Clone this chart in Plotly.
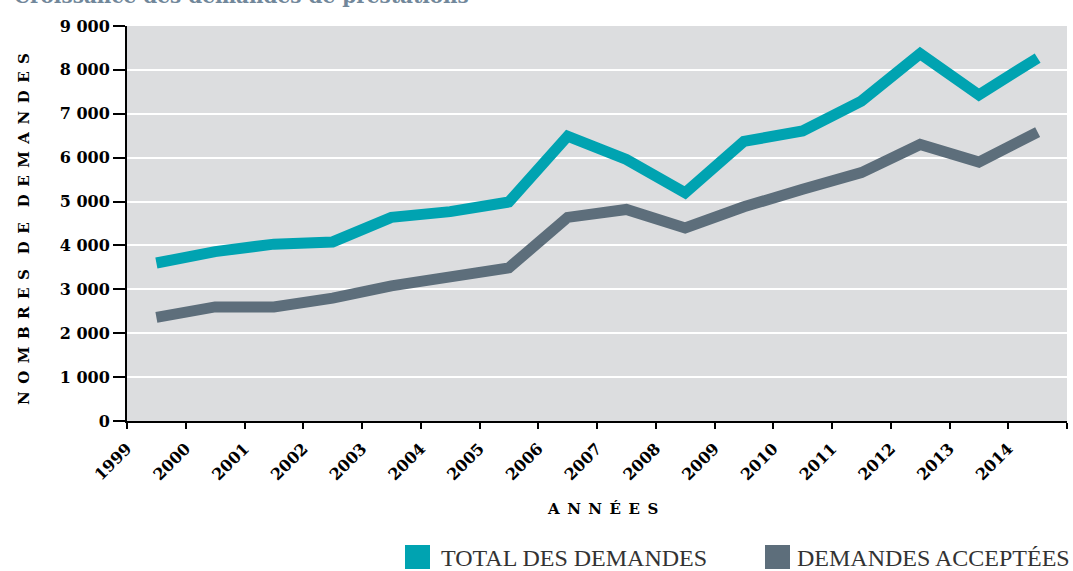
import plotly.graph_objects as go

years = [1999, 2000, 2001, 2002, 2003, 2004, 2005, 2006, 2007, 2008, 2009, 2010, 2011, 2012, 2013, 2014]
total_demandes = [3600, 3860, 4030, 4080, 4640, 4770, 4990, 6490, 5960, 5200, 6370, 6610, 7290, 8370, 7430, 8270]
demandes_acceptees = [2360, 2600, 2600, 2800, 3080, 3270, 3490, 4640, 4820, 4400, 4880, 5280, 5660, 6300, 5900, 6580]
y_ticks = [0, 1000, 2000, 3000, 4000, 5000, 6000, 7000, 8000, 9000]

TEAL = "#00a3b1"
SLATE = "#5d6e7b"
BG = "#dcdddf"
SERIF = "DejaVu Serif"

W, H = 1073, 571
L, R, T, B = 127, 6, 26, 150
PW, PH = W - L - R, H - T - B

def px(x):
    return (x - L) / PW

def py(y):
    return (H - B - y) / PH

xpos = [i + 0.5 for i in range(len(years))]

fig = go.Figure()
fig.add_trace(go.Scatter(x=xpos, y=total_demandes, mode="lines", name="TOTAL DES DEMANDES",
                         line=dict(color=TEAL, width=11), showlegend=False))
fig.add_trace(go.Scatter(x=xpos, y=demandes_acceptees, mode="lines", name="DEMANDES ACCEPTÉES",
                         line=dict(color=SLATE, width=11), showlegend=False))

fig.update_layout(
    width=W, height=H,
    margin=dict(l=L, r=R, t=T, b=B, pad=0),
    paper_bgcolor="white", plot_bgcolor=BG,
    font=dict(family=SERIF, color="black"),
)
fig.update_xaxes(
    range=[0, len(years)],
    tickmode="array",
    tickvals=list(range(len(years) + 1)),
    ticktext=[str(y) for y in years] + [""],
    tickangle=-45,
    ticks="outside", ticklen=6, tickwidth=2, tickcolor="black",
    ticklabelstandoff=4,
    showline=True, linecolor="black", linewidth=2,
    showgrid=False, zeroline=False,
    tickfont=dict(family=SERIF, size=16, color="black", weight="bold"),
)
fig.update_yaxes(
    range=[0, 9000],
    tickmode="array",
    tickvals=y_ticks,
    ticktext=[f"{v:,}".replace(",", " ") for v in y_ticks],
    ticks="outside", ticklen=12, tickwidth=2, tickcolor="black",
    showline=True, linecolor="black", linewidth=2,
    showgrid=True, gridcolor="white", gridwidth=2,
    zeroline=False,
    tickfont=dict(family=SERIF, size=16, color="black", weight="bold"),
)

EN = "\u2002"
def spaced(s, word_gap=2):
    words = s.split(" ")
    return (EN * word_gap).join(EN.join(w) for w in words)

annotations = [
    dict(text="Croissance des demandes de prestations", xref="paper", yref="paper",
         x=px(12), y=py(-4), xanchor="left", yanchor="middle", showarrow=False,
         font=dict(family=SERIF, size=20, color="#71879a", weight="bold")),
    dict(text=spaced("NOMBRES DE DEMANDES"), xref="paper", yref="paper",
         x=px(24), y=py(229), xanchor="center", yanchor="middle", textangle=-90, showarrow=False,
         font=dict(family=SERIF, size=15, color="black", weight="bold")),
    dict(text=spaced("ANNÉES"), xref="paper", yref="paper",
         x=px(602), y=py(509), xanchor="center", yanchor="middle", showarrow=False,
         font=dict(family=SERIF, size=15, color="black", weight="bold")),
    dict(text="TOTAL DES DEMANDES", xref="paper", yref="paper",
         x=px(439), y=py(558), xanchor="left", yanchor="middle", showarrow=False,
         font=dict(family="Liberation Serif", size=24, color="#333333")),
    dict(text="DEMANDES ACCEPTÉES", xref="paper", yref="paper",
         x=px(795), y=py(558), xanchor="left", yanchor="middle", showarrow=False,
         font=dict(family="Liberation Serif", size=24, color="#333333")),
]
shapes = [
    dict(type="rect", xref="paper", yref="paper", x0=px(405), x1=px(430), y0=py(569), y1=py(545),
         fillcolor=TEAL, line=dict(width=0)),
    dict(type="rect", xref="paper", yref="paper", x0=px(765), x1=px(790), y0=py(569), y1=py(545),
         fillcolor=SLATE, line=dict(width=0)),
]
fig.update_layout(annotations=annotations, shapes=shapes)

fig.write_html("out.html", config={"displayModeBar": False},
               post_script="document.body.style.margin='0';document.body.style.overflow='hidden';")
